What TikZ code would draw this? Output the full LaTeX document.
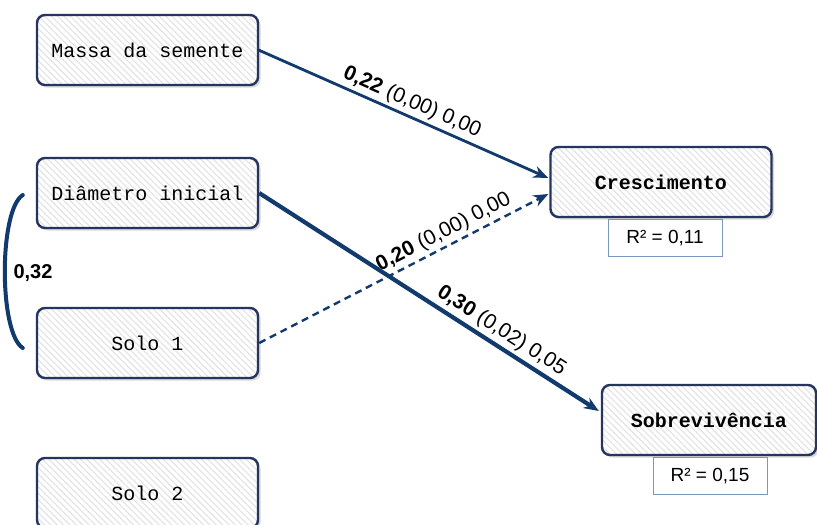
\documentclass[tikz,border=0pt]{standalone}
\usepackage{fontspec}
\setmainfont{Liberation Sans}
\setmonofont{Liberation Mono}
\usetikzlibrary{arrows.meta,patterns.meta,shadows,calc}
\definecolor{navy}{RGB}{18,58,108}
\definecolor{boxborder}{RGB}{38,52,96}
\definecolor{rborder}{RGB}{125,150,190}
\tikzset{
  varbox/.style={draw=boxborder, line width=2.4pt, rounded corners=8pt,
    minimum width=221pt, minimum height=70pt, inner sep=0pt,
    drop shadow={shadow xshift=2.5pt, shadow yshift=-2.5pt, opacity=0.3, fill=gray},
    preaction={fill=white},
    pattern={Lines[angle=-45,distance=4.5pt,line width=1.1pt]}, pattern color=gray!22,
    font=\ttfamily\fontsize{20}{24}\selectfont},
  outbox/.style={varbox, font=\ttfamily\bfseries\fontsize{20}{24}\selectfont},
  rbox/.style={draw=rborder, line width=0.8pt, fill=white, inner sep=0pt,
    minimum width=114pt, minimum height=37pt, font=\fontsize{19}{22}\selectfont},
  path/.style={draw=navy, line width=2.8pt, -{Stealth[length=15pt,width=12pt]}},
  elabel/.style={sloped, above, inner sep=3pt, text=black, font=\fontsize{21}{24}\selectfont}
}
\begin{document}
\begin{tikzpicture}[x=1pt,y=-1pt]
\useasboundingbox (0,0) rectangle (817,525);
\node[varbox] (massa) at (147.5,50) {Massa da semente};
\node[varbox] (diam) at (147.5,193) {Diâmetro inicial};
\node[varbox] (solo1) at (147.5,343) {Solo 1};
\node[varbox] (solo2) at (147.5,493) {Solo 2};
\node[outbox] (cresc) at (661,182) {Crescimento};
\node[outbox, minimum width=214pt] (sobr) at (709,420) {Sobrevivência};
\node[rbox, anchor=north] (r1) at ($(cresc.south)+(4,1)$) {R² = 0,11};
\node[rbox, anchor=north] (r2) at ($(sobr.south)+(1,1)$) {R² = 0,15};
\coordinate (c1) at ($(cresc.west)+(-1,-4)$);
\coordinate (c2) at ($(cresc.west)+(-1,12)$);
\coordinate (s1) at ($(sobr.west)+(-2,-9)$);
\draw[path] (massa.east) -- node[elabel, pos=0.51] {\textbf{0,22} (0,00) 0,00} (c1);
\draw[path, dashed, dash pattern=on 7pt off 5pt, line width=2.4pt] (solo1.east) -- node[elabel, pos=0.66] {\textbf{0,20} (0,00) 0,00} (c2);
\draw[path, line width=4.2pt] (diam.east) -- node[elabel, pos=0.69] {\textbf{0,30} (0,02) 0,05} (s1);
\coordinate (b1) at ($(diam.west)+(-13,2)$);
\coordinate (b2) at ($(solo1.west)+(-13,5)$);
\draw[draw=navy, line width=4pt, line cap=round] (b1) .. controls ($(b1)+(-24,15)$) and ($(b2)+(-24,-15)$) .. (b2);
\node[font=\bfseries\fontsize{20}{24}\selectfont, inner sep=0pt] (lab) at (33,273) {0,32};
\end{tikzpicture}
\end{document}
